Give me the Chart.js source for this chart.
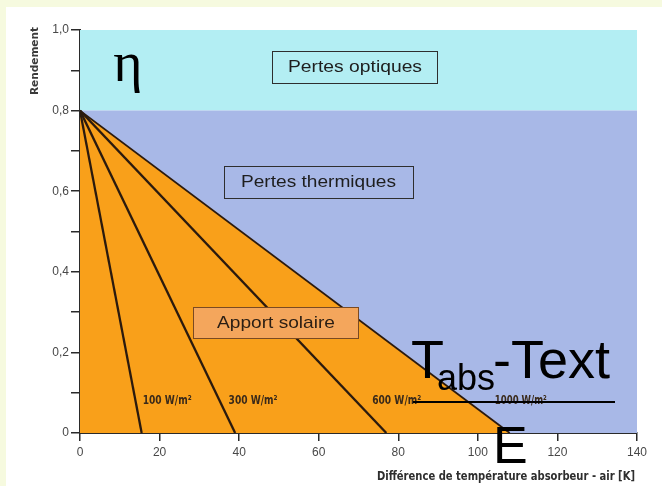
<!DOCTYPE html>
<html>
<head>
<meta charset="utf-8">
<script src="https://cdn.jsdelivr.net/npm/chart.js@4/dist/chart.umd.min.js"></script>
<style>
  html, body { margin: 0; padding: 0; background: #f6fadf; }
  body { width: 662px; height: 486px; overflow: hidden; position: relative; }
  #wrap { position: absolute; left: 6px; top: 7px; width: 656px; height: 479px; background: #ffffff; }
  canvas { display: block; }
</style>
</head>
<body>
<div id="wrap"><canvas id="c" width="656" height="479"></canvas></div>
<script>
// Collector efficiency vs. absorber-air temperature difference
const irradianceLabels = ['100 W/m²', '300 W/m²', '600 W/m²', '1000 W/m²'];
const zeroEfficiencyDeltaT = [15.5, 39, 77, 108];   // K where efficiency reaches 0
const opticalEfficiency = 0.8;                      // efficiency at ΔT = 0
const maxEfficiency = 1.0;
const deltaTRange = [0, 140];
const xTickStep = 20;
const yTickStep = 0.1;

const COLORS = {
  optical: '#b3eef3',
  thermal: '#a8b8e7',
  solar: '#f9a01a',
  line: '#2b1a0e',
  axis: '#2a2a2a',
  tick: '#484848'
};

const FONT_SANS = '"Liberation Sans", Arial, sans-serif';
const FONT_NARROW = '"Liberation Sans Narrow", "DejaVu Sans Condensed", sans-serif';

// one efficiency line per irradiance level
const lineSets = irradianceLabels.map((lab, i) => ({
  label: lab,
  data: [{ x: 0, y: opticalEfficiency }, { x: zeroEfficiencyDeltaT[i], y: 0 }],
  borderColor: COLORS.line,
  borderWidth: i === irradianceLabels.length - 1 ? 1.8 : 2.3,
  pointRadius: 0,
  fill: false,
  order: 1
}));

const datasets = [
  { // optical losses band
    label: 'Pertes optiques',
    data: [{ x: deltaTRange[0], y: maxEfficiency }, { x: deltaTRange[1], y: maxEfficiency }],
    borderWidth: 0, pointRadius: 0,
    backgroundColor: COLORS.optical,
    fill: { value: opticalEfficiency },
    order: 10
  },
  { // thermal losses band
    label: 'Pertes thermiques',
    data: [{ x: deltaTRange[0], y: opticalEfficiency }, { x: deltaTRange[1], y: opticalEfficiency }],
    borderWidth: 0, pointRadius: 0,
    backgroundColor: COLORS.thermal,
    fill: 'origin',
    order: 9
  },
  { // useful solar gain at maximum irradiance
    label: 'Apport solaire',
    data: [{ x: 0, y: opticalEfficiency }, { x: zeroEfficiencyDeltaT[zeroEfficiencyDeltaT.length - 1], y: 0 }],
    borderWidth: 0, pointRadius: 0,
    backgroundColor: COLORS.solar,
    fill: 'origin',
    order: 5
  },
  ...lineSets
];

// where the irradiance tags sit (data units)
const tagX = [21.9, 43.5, 79.6, 110.8];
const tagY = 0.079;

function fitText(ctx, text, cx, cy, font, width, color) {
  ctx.save();
  ctx.font = font;
  ctx.fillStyle = color;
  ctx.textAlign = 'center';
  ctx.textBaseline = 'middle';
  const w = ctx.measureText(text).width;
  ctx.translate(cx, cy);
  ctx.scale(width / w, 1);
  ctx.fillText(text, 0, 0);
  ctx.restore();
}

function box(ctx, x, y, w, h, fill, stroke) {
  ctx.save();
  if (fill) { ctx.fillStyle = fill; ctx.fillRect(x, y, w, h); }
  ctx.strokeStyle = stroke;
  ctx.lineWidth = 1;
  ctx.strokeRect(x + 0.5, y + 0.5, w, h);
  ctx.restore();
}

const overlay = {
  id: 'overlay',
  afterDatasetsDraw(chart) {
    const ctx = chart.ctx;
    const xs = chart.scales.x, ys = chart.scales.y;

    // region labels
    box(ctx, 266, 44, 165, 32, null, '#2e2e2e');
    fitText(ctx, 'Pertes optiques', 349, 60, '17px ' + FONT_SANS, 134, '#1e1e1e');
    box(ctx, 218, 159, 189, 32, null, '#2e2e2e');
    fitText(ctx, 'Pertes thermiques', 312.5, 175, '17px ' + FONT_SANS, 155, '#1e1e1e');
    box(ctx, 187, 300, 165, 31, '#f4a65c', '#7a4a22');
    fitText(ctx, 'Apport solaire', 270, 316, '17px ' + FONT_SANS, 118, '#2a1e14');

    // irradiance tags
    irradianceLabels.forEach((lab, i) => {
      fitText(ctx, lab, xs.getPixelForValue(tagX[i]), ys.getPixelForValue(tagY),
        'bold 12px ' + FONT_NARROW, lab.length > 8 ? 52 : 49, '#3a2a1a');
    });
  },
  afterDraw(chart) {
    const ctx = chart.ctx;
    ctx.save();
    // axis titles
    ctx.save();
    ctx.translate(29, 54);
    ctx.rotate(-Math.PI / 2);
    fitText(ctx, 'Rendement', 0, 0, 'bold 10px ' + FONT_NARROW, 68, '#3a3a3a');
    ctx.restore();
    fitText(ctx, 'Différence de température absorbeur - air [K]', 500, 470,
      'bold 12px ' + FONT_NARROW, 258, '#2e2e2e');

    // efficiency symbol
    ctx.fillStyle = '#000';
    ctx.font = '56px "Liberation Serif", "Times New Roman", serif';
    ctx.textAlign = 'center';
    ctx.textBaseline = 'alphabetic';
    ctx.fillText('η', 122, 74);

    // (Tabs - Text) / E
    ctx.textAlign = 'left';
    ctx.font = '54px ' + FONT_SANS;
    ctx.fillText('T', 405, 371);
    ctx.font = '36px ' + FONT_SANS;
    ctx.fillText('abs', 431, 383);
    ctx.font = '54px ' + FONT_SANS;
    ctx.fillText('-Text', 487, 371);
    ctx.fillRect(407, 394, 202, 2);
    ctx.font = '52px ' + FONT_SANS;
    ctx.fillText('E', 487, 456);
    ctx.restore();
  }
};

new Chart(document.getElementById('c'), {
  type: 'line',
  data: { datasets },
  options: {
    responsive: false,
    animation: false,
    parsing: true,
    layout: { padding: { top: 23, right: 25, bottom: 0, left: 0 } },
    plugins: { legend: { display: false }, tooltip: { enabled: false }, title: { display: false } },
    elements: { line: { tension: 0 } },
    scales: {
      x: {
        type: 'linear',
        min: deltaTRange[0], max: deltaTRange[1],
        z: 1,
        afterFit: s => { s.height = 53; },
        ticks: {
          stepSize: xTickStep,
          color: COLORS.tick,
          font: { family: FONT_SANS, size: 12 },
          padding: 4,
          maxRotation: 0
        },
        grid: { drawOnChartArea: false, drawTicks: true, tickLength: 8, color: COLORS.axis, lineWidth: 1.5 },
        border: { display: true, color: COLORS.axis, width: 2 }
      },
      y: {
        type: 'linear',
        min: 0, max: maxEfficiency,
        z: 1,
        afterFit: s => { s.width = 74; },
        ticks: {
          stepSize: yTickStep,
          color: COLORS.tick,
          font: { family: FONT_SANS, size: 12 },
          padding: 2,
          callback: v => {
            const k = Math.round(v * 10);
            if (k % 2 !== 0) return '';
            return k === 0 ? '0' : (k / 10).toFixed(1).replace('.', ',');
          }
        },
        grid: { drawOnChartArea: false, drawTicks: true, tickLength: 9, color: COLORS.axis, lineWidth: 1.5 },
        border: { display: true, color: COLORS.axis, width: 2 }
      }
    }
  },
  plugins: [overlay]
});
</script>
</body>
</html>
